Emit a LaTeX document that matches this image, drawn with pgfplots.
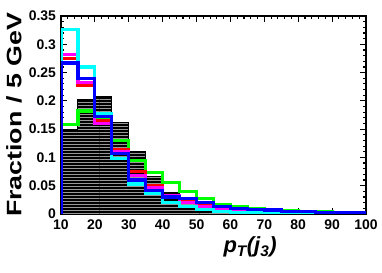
\documentclass[border=0pt]{standalone}
\usepackage{pgfplots}
\pgfplotsset{compat=1.18}
\usepackage{fontspec}
\setmainfont{Liberation Sans}
\usetikzlibrary{patterns}
\definecolor{rgreen}{rgb}{0,1,0}
\definecolor{rred}{rgb}{1,0,0}
\definecolor{rmag}{rgb}{1,0,1}
\definecolor{rcyan}{rgb}{0,1,1}
\definecolor{rblue}{rgb}{0,0,1}
\begin{document}
\begin{tikzpicture}[x=1bp,y=1bp]
\begin{axis}[
  scale only axis, width=305bp, height=198bp,
  xmin=10, xmax=100, ymin=0, ymax=0.35,
  xtick={10,20,...,100},
  xticklabels={10,20,30,40,50,60,70,80,90,100},
  ytick={0,0.05,0.1,0.15,0.2,0.25,0.3,0.35},
  yticklabels={0,0.05,0.1,0.15,0.2,0.25,0.3,0.35},
  minor x tick num=4, minor y tick num=4,
  tick align=inside,
  major tick length=6bp, minor tick length=3bp,
  every tick/.style={black, line width=1.2bp},
  axis line style={line width=1.2bp},
  /pgf/number format/assume math mode=true,
  ticklabel style={font=\bfseries\fontsize{14}{14}\selectfont},
  xticklabel style={yshift=-2.5bp},
  yticklabel style={xshift=-1.5bp},
  ylabel={\scalebox{1.28}[1]{\bfseries\fontsize{21}{21}\selectfont Fraction / 5 GeV}},
  ylabel style={at={(axis description cs:-0.154,0.5)}, anchor=center},
  xlabel={\bfseries\itshape\fontsize{22}{22}\selectfont p\textsubscript{T}(j\textsubscript{3})},
  xlabel style={at={(axis description cs:0.62,-0.168)}, anchor=center},
]
% black hatched
\addplot[const plot, draw=black, line width=1bp, fill=black, postaction={pattern=horizontal lines, pattern color=gray!80}] coordinates {
(10,0.150) (15,0.202) (20,0.208) (25,0.161) (30,0.110) (35,0.067) (40,0.038) (45,0.022) (50,0.012) (55,0.007) (60,0.005) (65,0.004) (70,0.003) (75,0.002) (80,0.002) (85,0.001) (90,0.001) (95,0.001) (100,0.001)
} \closedcycle;
% green
\addplot[const plot, draw=rgreen, line width=3.2bp] coordinates {
(10,0) (10,0.158) (15,0.182) (20,0.170) (25,0.130) (30,0.095) (35,0.074) (40,0.056) (45,0.040) (50,0.027) (55,0.017) (60,0.013) (65,0.010) (70,0.008) (75,0.006) (80,0.005) (85,0.004) (90,0.003) (95,0.003) (100,0.003)
};
% red
\addplot[const plot, draw=rred, line width=3.2bp] coordinates {
(10,0) (10,0.275) (15,0.228) (20,0.165) (25,0.114) (30,0.075) (35,0.050) (40,0.033) (45,0.022) (50,0.014) (55,0.010) (60,0.007) (65,0.005) (70,0.004) (75,0.003) (80,0.003) (85,0.002) (90,0.002) (95,0.002) (100,0.002)
};
% magenta
\addplot[const plot, draw=rmag, line width=3.2bp] coordinates {
(10,0) (10,0.282) (15,0.232) (20,0.160) (25,0.110) (30,0.068) (35,0.047) (40,0.033) (45,0.021) (50,0.013) (55,0.010) (60,0.007) (65,0.005) (70,0.004) (75,0.003) (80,0.002) (85,0.002) (90,0.002) (95,0.002) (100,0.002)
};
% cyan
\addplot[const plot, draw=rcyan, line width=3.2bp] coordinates {
(10,0) (10,0.326) (15,0.260) (20,0.177) (25,0.098) (30,0.053) (35,0.037) (40,0.020) (45,0.013) (50,0.008) (55,0.004) (60,0.003) (65,0.002) (70,0.002) (75,0.001) (80,0.001) (85,0.001) (90,0.001) (95,0.001) (100,0.001)
};
% blue
\addplot[const plot, draw=rblue, line width=3.2bp] coordinates {
(10,0) (10,0.267) (15,0.240) (20,0.172) (25,0.107) (30,0.060) (35,0.042) (40,0.030) (45,0.028) (50,0.020) (55,0.013) (60,0.010) (65,0.008) (70,0.007) (75,0.005) (80,0.004) (85,0.003) (90,0.003) (95,0.003) (100,0.003)
};
\end{axis}
\pgfresetboundingbox
\path[use as bounding box] (-61bp,-59bp) rectangle (321bp,214bp);
\end{tikzpicture}
\end{document}
